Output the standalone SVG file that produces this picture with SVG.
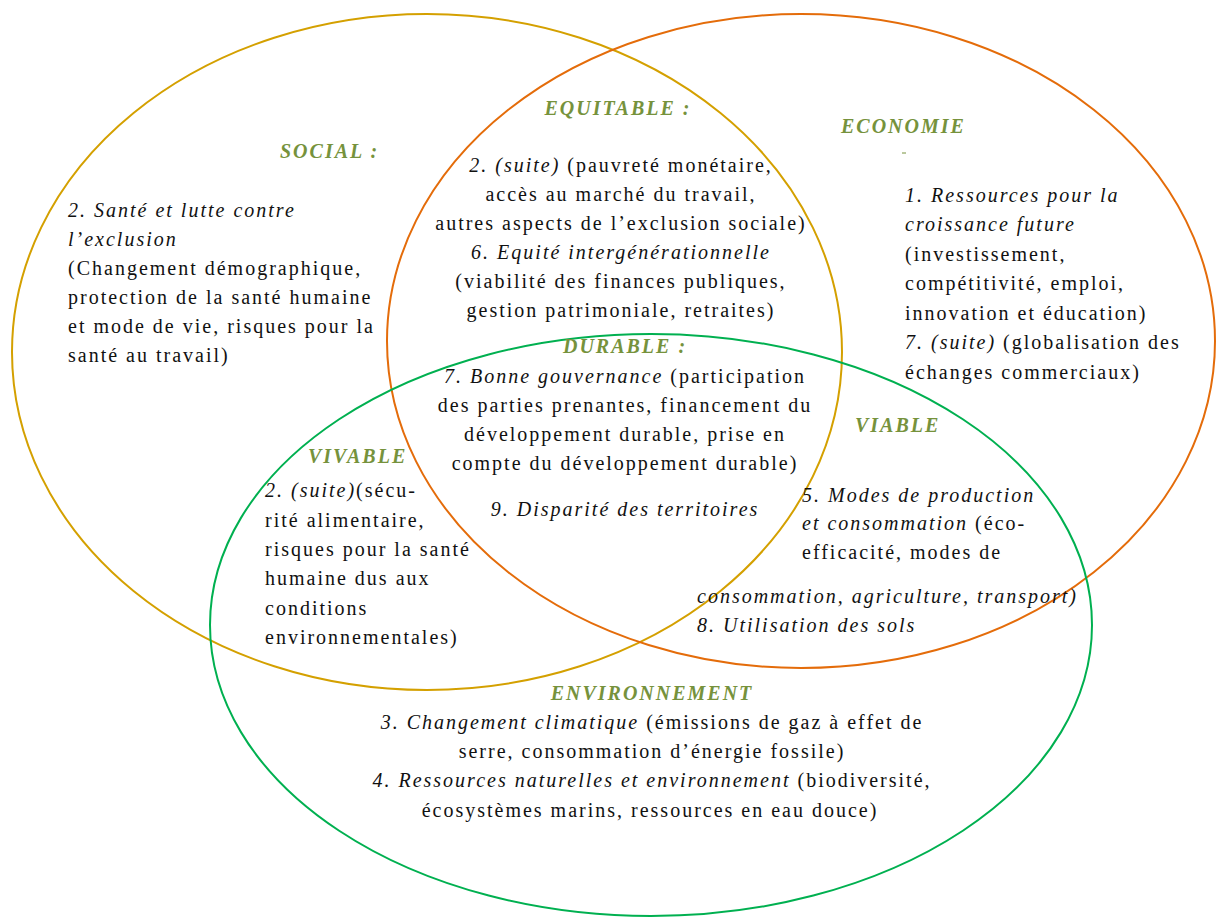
<svg xmlns="http://www.w3.org/2000/svg" width="1218" height="918" viewBox="0 0 1218 918">
<style>
.ell{fill:none;stroke-width:2}
.t{font-family:"Liberation Serif","Times New Roman",serif;font-size:20px;letter-spacing:2px;fill:#111}
.c{text-anchor:middle}
.i{font-style:italic}
.lab{font-family:"Liberation Serif","Times New Roman",serif;font-size:20px;letter-spacing:2px;font-weight:bold;font-style:italic;fill:#76923C}
</style>
<rect width="1218" height="918" fill="#fff"/>
<g id="connectors">
<ellipse id="social-circle" class="ell" cx="427" cy="352" rx="415" ry="338" stroke="#D4A000"/>
<ellipse id="economie-circle" class="ell" cx="801" cy="341" rx="414" ry="327" stroke="#E46C0A"/>
<ellipse id="environnement-circle" class="ell" cx="651" cy="625" rx="441" ry="291" stroke="#00B050"/>
</g>
<g id="social">
<text class="lab" x="280" y="158">SOCIAL :</text>
<text class="t" x="68" y="217"><tspan class="i">2. Santé et lutte contre</tspan></text>
<text class="t" x="68" y="246"><tspan class="i">l’exclusion</tspan></text>
<text class="t" x="68" y="275">(Changement démographique,</text>
<text class="t" x="68" y="304">protection de la santé humaine</text>
<text class="t" x="68" y="333">et mode de vie, risques pour la</text>
<text class="t" x="68" y="362">santé au travail)</text>
</g>
<g id="equitable">
<text class="lab c" x="618" y="115">EQUITABLE :</text>
<text class="t c" x="621" y="172"><tspan class="i">2. (suite)</tspan> (pauvreté monétaire,</text>
<text class="t c" x="621" y="201">accès au marché du travail,</text>
<text class="t c" x="621" y="230">autres aspects de l’exclusion sociale)</text>
<text class="t c" x="621" y="259"><tspan class="i">6. Equité intergénérationnelle</tspan></text>
<text class="t c" x="621" y="288">(viabilité des finances publiques,</text>
<text class="t c" x="621" y="317">gestion patrimoniale, retraites)</text>
</g>
<g id="economie">
<text class="lab" x="841" y="133">ECONOMIE</text>
<line x1="902" y1="153" x2="906" y2="153" stroke="#76923C" stroke-width="1"/>
<text class="t" x="905" y="202"><tspan class="i">1. Ressources pour la</tspan></text>
<text class="t" x="905" y="231"><tspan class="i">croissance future</tspan></text>
<text class="t" x="905" y="261">(investissement,</text>
<text class="t" x="905" y="290">compétitivité, emploi,</text>
<text class="t" x="905" y="320">innovation et éducation)</text>
<text class="t" x="905" y="349"><tspan class="i">7. (suite)</tspan> (globalisation des</text>
<text class="t" x="905" y="379">échanges commerciaux)</text>
</g>
<g id="durable">
<text class="lab c" x="625" y="353">DURABLE :</text>
<text class="t c" x="625" y="383"><tspan class="i">7. Bonne gouvernance</tspan> (participation</text>
<text class="t c" x="625" y="412">des parties prenantes, financement du</text>
<text class="t c" x="625" y="441">développement durable, prise en</text>
<text class="t c" x="625" y="470">compte du développement durable)</text>
<text class="t c" x="625" y="516"><tspan class="i">9. Disparité des territoires</tspan></text>
</g>
<g id="vivable">
<text class="lab" x="308" y="463">VIVABLE</text>
<text class="t" x="265" y="497"><tspan class="i">2. (suite)</tspan>(sécu-</text>
<text class="t" x="265" y="527">rité alimentaire,</text>
<text class="t" x="265" y="556">risques pour la santé</text>
<text class="t" x="265" y="585">humaine dus aux</text>
<text class="t" x="265" y="615">conditions</text>
<text class="t" x="265" y="644">environnementales)</text>
</g>
<g id="viable">
<text class="lab" x="855" y="432">VIABLE</text>
<text class="t" x="802" y="502"><tspan class="i">5. Modes de production</tspan></text>
<text class="t" x="802" y="530"><tspan class="i">et consommation</tspan> (éco-</text>
<text class="t" x="802" y="559">efficacité, modes de</text>
<text class="t" x="697" y="603"><tspan class="i">consommation, agriculture, transport)</tspan></text>
<text class="t" x="697" y="632"><tspan class="i">8. Utilisation des sols</tspan></text>
</g>
<g id="environnement">
<text class="lab c" x="652" y="700">ENVIRONNEMENT</text>
<text class="t c" x="652" y="729"><tspan class="i">3. Changement climatique</tspan> (émissions de gaz à effet de</text>
<text class="t c" x="652" y="758">serre, consommation d’énergie fossile)</text>
<text class="t c" x="652" y="787"><tspan class="i">4. Ressources naturelles et environnement</tspan> (biodiversité,</text>
<text class="t c" x="650" y="817">écosystèmes marins, ressources en eau douce)</text>
</g>
</svg>
